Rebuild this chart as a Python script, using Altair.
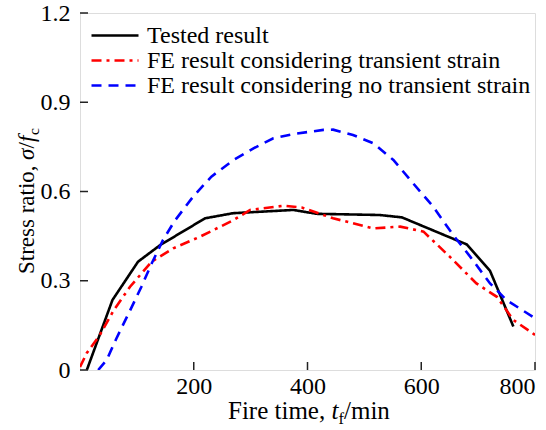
import altair as alt
import pandas as pd

# ---- data ----
series_names = ["Tested result",
                "FE result considering transient strain",
                "FE result considering no transient strain"]

tested_t = [12, 57, 102, 141, 220, 269, 375, 416, 527, 566, 680, 721, 762]
tested_s = [0.0, 0.235, 0.364, 0.42, 0.51, 0.527, 0.538, 0.525, 0.521, 0.513, 0.422, 0.333, 0.146]

fe_t_t = [0, 12, 35, 59, 88, 126, 164, 211, 270, 299, 358, 390, 445, 516, 563, 604, 650, 697, 733, 762, 800]
fe_t_s = [0.01, 0.057, 0.118, 0.2, 0.28, 0.364, 0.409, 0.448, 0.504, 0.538, 0.552, 0.546, 0.51, 0.476,
          0.482, 0.465, 0.381, 0.291, 0.246, 0.168, 0.118]

fe_n_t = [32, 47, 64, 88, 108, 126, 146, 166, 199, 231, 270, 305, 340, 381, 428, 445, 480, 516, 551,
          586, 621, 656, 686, 721, 750, 800]
fe_n_s = [0.0, 0.034, 0.106, 0.2, 0.28, 0.358, 0.437, 0.5, 0.583, 0.65, 0.706, 0.745, 0.779, 0.795,
          0.807, 0.808, 0.79, 0.762, 0.706, 0.627, 0.549, 0.454, 0.381, 0.291, 0.235, 0.174]

x_ticks = [200, 400, 600, 800]
y_ticks = [0, 0.3, 0.6, 0.9, 1.2]

rows = []
for name, ts, ss in [(series_names[0], tested_t, tested_s),
                     (series_names[1], fe_t_t, fe_t_s),
                     (series_names[2], fe_n_t, fe_n_s)]:
    for t, s in zip(ts, ss):
        rows.append({"series": name, "t": t, "s": s})
df = pd.DataFrame(rows)

W, H = 455, 357
FONT = "Liberation Serif"

xscale = alt.Scale(domain=[0, 800], nice=False, zero=False)
yscale = alt.Scale(domain=[0, 1.2], nice=False, zero=False)

xaxis = alt.Axis(values=x_ticks, title=None, domain=False, ticks=False, tickSize=0,
                 grid=False, labelPadding=4, labelFont=FONT, labelFontSize=24,
                 labelColor="#000")
yaxis = alt.Axis(values=y_ticks, title=None, domain=False, ticks=False, tickSize=0,
                 grid=False, labelPadding=10, labelFont=FONT, labelFontSize=24,
                 labelColor="#000",
                 labelExpr="datum.value == 0 ? '0' : format(datum.value, '.1f')")

leg = dict(title=None, orient="none", legendX=10, legendY=10,
           symbolType="stroke", symbolSize=2209, symbolStrokeWidth=2.6,
           clipHeight=25, rowPadding=0, labelOffset=7, padding=0,
           labelFont=FONT, labelFontSize=24, labelColor="#000", labelLimit=500)

lines = alt.Chart(df).mark_line(strokeWidth=2.6, clip=True).encode(
    x=alt.X("t:Q", scale=xscale, axis=xaxis),
    y=alt.Y("s:Q", scale=yscale, axis=yaxis),
    color=alt.Color("series:N",
                    scale=alt.Scale(domain=series_names, range=["#000000", "#ff0000", "#0000ff"]),
                    legend=alt.Legend(**leg)),
    strokeDash=alt.StrokeDash("series:N",
                              scale=alt.Scale(domain=series_names,
                                              range=[[1, 0], [10, 5, 3, 5], [10, 7]]),
                              legend=alt.Legend(**leg)),
)

xt = alt.Chart(pd.DataFrame({"t": x_ticks})).mark_rule(color="#222", strokeWidth=1.5).encode(
    x=alt.X("t:Q", scale=xscale, axis=xaxis), y=alt.value(H), y2=alt.value(H - 8))
yt = alt.Chart(pd.DataFrame({"s": y_ticks})).mark_rule(color="#222", strokeWidth=1.5).encode(
    y=alt.Y("s:Q", scale=yscale, axis=yaxis), x=alt.value(0), x2=alt.value(8))

one = alt.Data(values=[{}])


def txt(text, x, y, size=24, style="normal", angle=0):
    kw = dict(text=text, font=FONT, fontSize=size, fontStyle=style, color="#000",
              align="left", baseline="alphabetic")
    if angle:
        kw["angle"] = angle
    return alt.Chart(one).mark_text(**kw).encode(x=alt.value(x), y=alt.value(y))


# x-axis title: Fire time, t_f/min
xb = 406
x_title = [
    txt("Fire time, ", 148, xb, size=25),
    txt("t", 251.5, xb, size=25, style="italic"),
    txt("f", 258.5, xb + 5, size=16.5),
    txt("/min", 264, xb, size=25),
]
# y-axis title: Stress ratio, σ/f_c (rotated)
yb = -46
y0 = 261
y_title = [
    txt("Stress ratio, ", yb, y0, size=23, angle=270),
    txt("σ", yb, y0 - 114, size=23, style="italic", angle=270),
    txt("/", yb, y0 - 125.5, size=23, angle=270),
    txt("f", yb, y0 - 132, size=23, style="italic", angle=270),
    txt("c", yb + 5, y0 - 139, size=15.5, angle=270),
]

chart = alt.layer(lines, xt, yt, *x_title, *y_title).properties(
    width=W, height=H,
    autosize=alt.AutoSizeParams(type="none"),
    padding={"left": 80, "top": 13, "right": 11, "bottom": 60},
).configure_view(stroke="#222", strokeWidth=1.5).configure(background="white")

chart.save("out.html", embed_options={"renderer": "svg", "actions": False})
